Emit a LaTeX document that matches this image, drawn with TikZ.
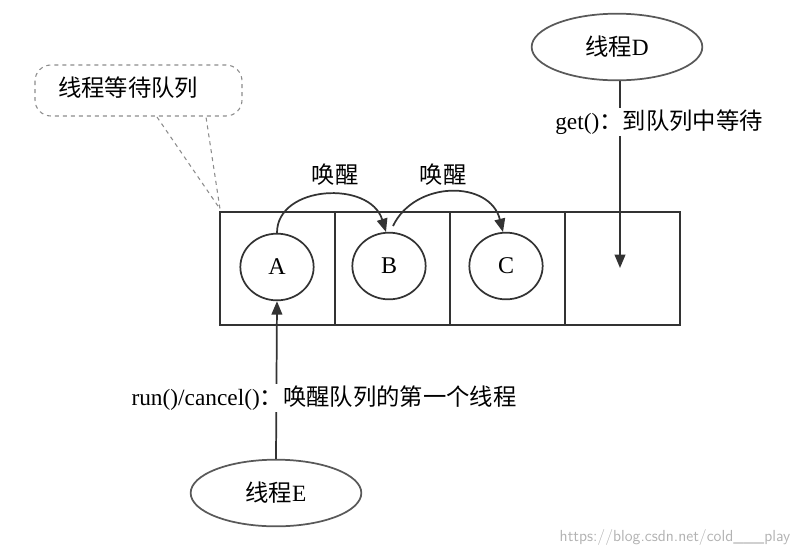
\documentclass[tikz,border=0pt]{standalone}
\usepackage{fontspec}
\setmainfont{Liberation Serif}
\newfontfamily\cjk{Noto Sans CJK SC}
\usetikzlibrary{shapes.geometric,arrows.meta}
\begin{document}
\begin{tikzpicture}[x=0.75pt,y=-0.75pt,
  ln/.style={draw=black!80,line width=1.3pt},
  circ/.style={ln,ellipse,minimum width=55pt,minimum height=50pt,font=\fontsize{18}{18}\selectfont},
  thr/.style={ln,draw=black!65,ellipse,minimum width=128pt,minimum height=50pt,font=\fontsize{17.5}{17.5}\selectfont},
  arr/.style={ln,-{Triangle[length=10pt,width=8pt]}},
  lbl/.style={font=\fontsize{17.5}{17.5}\selectfont}]
\useasboundingbox (0,0) rectangle (799,551);
% callout
\draw[draw=black!45,dashed,line width=0.8pt,rounded corners=12pt] (35,65) rectangle (242,116);
\node[lbl] (cq) at (128,88) {\cjk 线程等待队列};
\coordinate (t1) at (157,117);
\coordinate (t2) at (206,117);
\coordinate (tip) at (220,209);
\draw[draw=black!45,dashed,line width=0.8pt] (t1) -- (tip) -- (t2);
% queue
\node[ln,draw,minimum width=345pt,minimum height=84.75pt,inner sep=0] (q) at (450,268.5) {};
\draw[ln] (335,212) -- (335,325) (450,212) -- (450,325) (565,212) -- (565,325);
\node[circ] (A) at (277,267) {A};
\node[circ] (B) at (389,266) {B};
\node[circ] (C) at (506,266) {C};
\coordinate (dEnd) at (620,268);
% threads
\node[thr] (D) at (617,47) {\cjk 线程\rmfamily D};
\node[thr] (E) at (276,493) {\cjk 线程\rmfamily E};
\draw[arr] (D.south -| dEnd) -- (dEnd);
\draw[arr] (E.north) -- (A.south);
\node[lbl,fill=white,inner sep=1pt] (gl) at (659,122) {get()\cjk ：到队列中等待};
\node[lbl,fill=white,inner sep=1pt] (rl) at (324,398) {run()/cancel()\cjk ：唤醒队列的第一个线程};
% wake arcs
\draw[arr] (A.north) .. controls (277,185) and (370,180) .. (386,232);
\draw[arr] (393,226) .. controls (415,180) and (490,180) .. (503,232);
\node[lbl] (w1) at (335,175) {\cjk 唤醒};
\node[lbl] (w2) at (443,175) {\cjk 唤醒};
\node[font=\fontsize{12}{12}\selectfont,text=black!30,anchor=east] (wm) at (795,537) {\sffamily https://blog.csdn.net/cold\_\_\_play};
\end{tikzpicture}
\end{document}
